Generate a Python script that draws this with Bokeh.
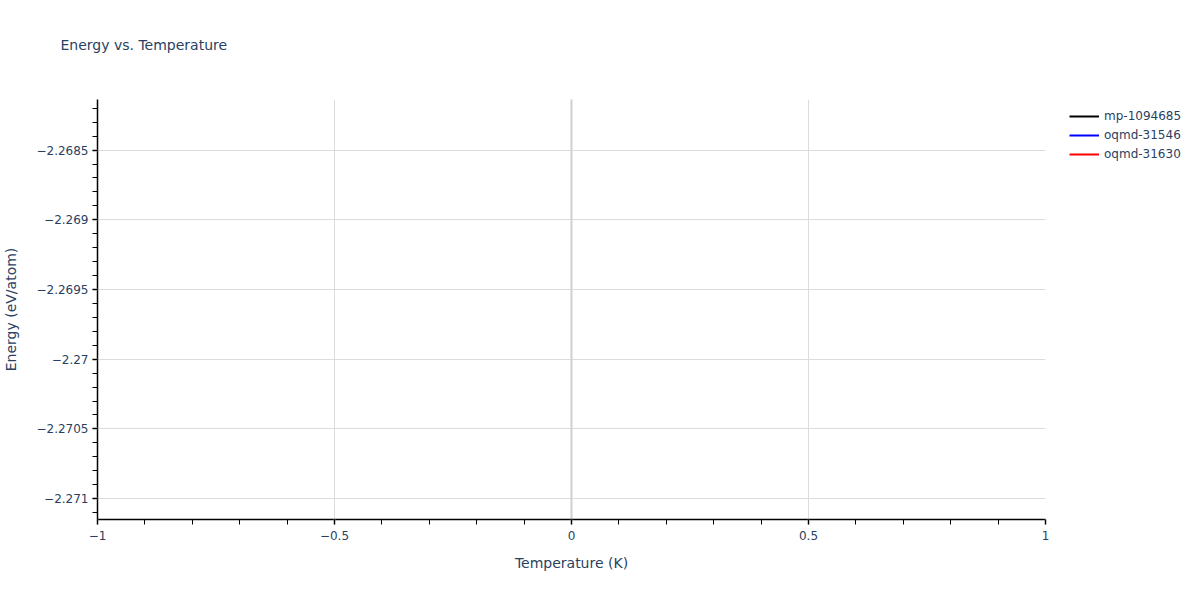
from bokeh.plotting import figure
from bokeh.models import (Range1d, SingleIntervalTicker, CustomJSTickFormatter,
                          Legend, LegendItem)
from bokeh.embed import file_html
from bokeh.resources import INLINE

# each material has a single (T, E) point, so no line is actually visible
materials = ["mp-1094685", "oqmd-31546", "oqmd-31630"]
colors = ["black", "blue", "red"]
temperatures = [[0.0], [0.0], [0.0]]
energies = [[-2.26830], [-2.27100], [-2.26965]]

FONT = "DejaVu Sans"
TEXT = "#2a3f5f"

p = figure(frame_width=948, frame_height=420, output_backend="svg",
           toolbar_location=None,
           x_range=Range1d(-1, 1), y_range=Range1d(-2.27115, -2.268137),
           min_border_left=89, min_border_right=147, min_border_top=99,
           min_border_bottom=72, title="Energy vs. Temperature\n ")
p.outline_line_color = None
p.background_fill_color = "white"

p.title.text_font = FONT
p.title.text_font_size = "14px"
p.title.text_font_style = "normal"
p.title.text_color = TEXT
p.title.offset = -37
p.title.vertical_align = "top"
p.title.standoff = 58

fmt = CustomJSTickFormatter(code="""
    var s = String(Number(tick.toFixed(6)));
    return s.replace('-', '\\u2212');
""")

p.xaxis.ticker = SingleIntervalTicker(interval=0.5, num_minor_ticks=5)
p.yaxis.ticker = SingleIntervalTicker(interval=0.0005, num_minor_ticks=5)
for ax in (p.xaxis[0], p.yaxis[0]):
    ax.formatter = fmt
    ax.axis_line_color = "black"
    ax.axis_line_width = 1.5
    ax.major_tick_line_color = "#888888"
    ax.major_tick_line_width = 2
    ax.major_tick_out = 5
    ax.major_tick_in = 0
    ax.minor_tick_line_color = "black"
    ax.minor_tick_out = 5
    ax.minor_tick_in = 0
    ax.major_label_text_font = FONT
    ax.major_label_text_font_size = "12px"
    ax.major_label_text_color = TEXT
    ax.axis_label_text_font = FONT
    ax.axis_label_text_font_size = "14px"
    ax.axis_label_text_font_style = "normal"
    ax.axis_label_text_color = TEXT

p.xaxis.axis_label = "Temperature (K)"
p.yaxis.axis_label = "Energy (eV/atom)"
p.xaxis.major_label_standoff = 6
p.xaxis.axis_label_standoff = 12
p.yaxis.major_label_standoff = 4
p.yaxis.axis_label_standoff = 14

p.grid.grid_line_color = "#dcdcdc"
p.grid.grid_line_width = 1

# zero line on x
p.ray(x=[0], y=[-2.27115], length=0, angle=1.5708, line_color="#d0d0d0",
      line_width=2)

items = []
for name, col, t, e in zip(materials, colors, temperatures, energies):
    r = p.line(t, e, line_color=col, line_width=2)
    items.append(LegendItem(label=name, renderers=[r]))

legend = Legend(items=items, location=(24, 358), border_line_color=None,
                background_fill_alpha=0, label_text_font=FONT,
                label_text_font_size="12px", label_text_color=TEXT,
                glyph_width=30, glyph_height=14, spacing=5, padding=4,
                label_standoff=5, margin=0)
p.add_layout(legend, "right")

open("out.html", "w").write(file_html(p, INLINE))
